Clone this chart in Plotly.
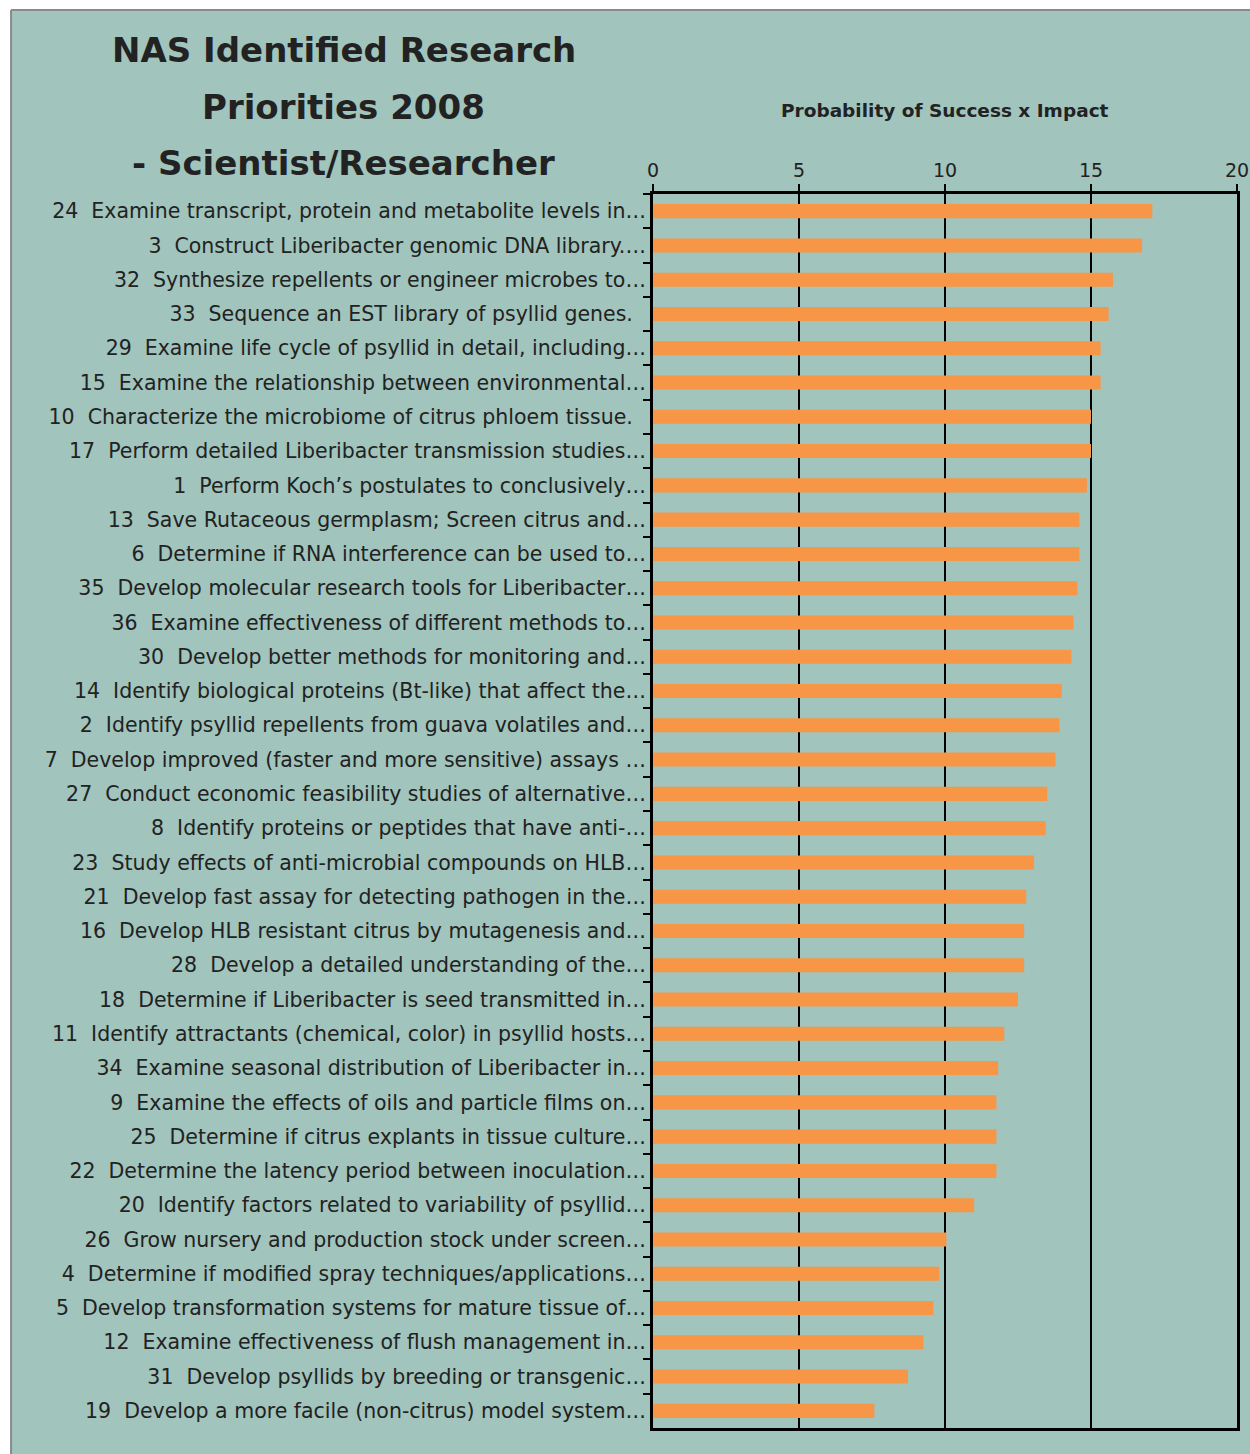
import plotly.graph_objects as go

# Research priority number, shortened description and score, listed top to bottom
item_ids = [24, 3, 32, 33, 29, 15, 10, 17, 1, 13, 6, 35, 36, 30, 14, 2, 7, 27,
            8, 23, 21, 16, 28, 18, 11, 34, 9, 25, 22, 20, 26, 4, 5, 12, 31, 19]

item_text = [
    "Examine transcript, protein and metabolite levels in…",
    "Construct Liberibacter genomic DNA library.…",
    "Synthesize repellents or engineer microbes to…",
    "Sequence an EST library of psyllid genes.  ",
    "Examine life cycle of psyllid in detail, including…",
    "Examine the relationship between environmental…",
    "Characterize the microbiome of citrus phloem tissue.  ",
    "Perform detailed Liberibacter transmission studies…",
    "Perform Koch’s postulates to conclusively…",
    "Save Rutaceous germplasm; Screen citrus and…",
    "Determine if RNA interference can be used to…",
    "Develop molecular research tools for Liberibacter…",
    "Examine effectiveness of different methods to…",
    "Develop better methods for monitoring and…",
    "Identify biological proteins (Bt-like) that affect the…",
    "Identify psyllid repellents from guava volatiles and…",
    "Develop improved (faster and more sensitive) assays …",
    "Conduct economic feasibility studies of alternative…",
    "Identify proteins or peptides that have anti-…",
    "Study effects of anti-microbial compounds on HLB…",
    "Develop fast assay for detecting pathogen in the…",
    "Develop HLB resistant citrus by mutagenesis and…",
    "Develop a detailed understanding of the…",
    "Determine if Liberibacter is seed transmitted in…",
    "Identify attractants (chemical, color) in psyllid hosts…",
    "Examine seasonal distribution of Liberibacter in…",
    "Examine the effects of oils and particle films on…",
    "Determine if citrus explants in tissue culture…",
    "Determine the latency period between inoculation…",
    "Identify factors related to variability of psyllid…",
    "Grow nursery and production stock under screen…",
    "Determine if modified spray techniques/applications…",
    "Develop transformation systems for mature tissue of…",
    "Examine effectiveness of flush management in…",
    "Develop psyllids by breeding or transgenic…",
    "Develop a more facile (non-citrus) model system…",
]

scores = [17.10, 16.75, 15.75, 15.60, 15.33, 15.33, 15.00, 15.00, 14.86,
          14.60, 14.60, 14.53, 14.40, 14.33, 14.00, 13.92, 13.78, 13.50,
          13.45, 13.05, 12.78, 12.71, 12.71, 12.50, 12.03, 11.82, 11.76,
          11.76, 11.76, 11.00, 10.05, 9.80, 9.60, 9.26, 8.73, 7.58]

x_ticks = [0, 5, 10, 15, 20]

labels = [f"{n}\u00a0 {t}" for n, t in zip(item_ids, item_text)]

BG = "#a1c4bd"
BAR = "#f79646"
INK = "#222222"
FONT = "'DejaVu Sans', Verdana, sans-serif"

W, H = 1250, 1454
L, R, T, B = 652.5, 13, 194, 25.5
pw = W - L - R
ph = H - T - B


def px_x(px):
    return (px - L) / pw


def px_y(py):
    return (H - B - py) / ph


fig = go.Figure(
    go.Bar(
        x=scores,
        y=labels,
        orientation="h",
        marker=dict(color=BAR, line=dict(width=0)),
        hoverinfo="x+y",
    )
)

fig.update_layout(
    width=W,
    height=H,
    margin=dict(l=L, r=R, t=T, b=B, autoexpand=False),
    paper_bgcolor="white",
    plot_bgcolor=BG,
    bargap=0.59,
    showlegend=False,
    font=dict(family=FONT, color=INK),
    shapes=[
        # teal panel with a grey frame on its top and left edges
        dict(type="rect", xref="paper", yref="paper", layer="below",
             x0=px_x(10), x1=px_x(1260), y0=px_y(1460), y1=px_y(10),
             fillcolor=BG, line=dict(width=0)),
        dict(type="line", xref="paper", yref="paper", layer="below",
             x0=px_x(10), x1=px_x(1260), y0=px_y(10), y1=px_y(10),
             line=dict(color="#8a8a8a", width=2)),
        dict(type="line", xref="paper", yref="paper", layer="below",
             x0=px_x(10), x1=px_x(10), y0=px_y(10), y1=px_y(1460),
             line=dict(color="#8a8a8a", width=2)),
    ],
)

fig.update_xaxes(
    side="top",
    range=[0, 20],
    tickvals=x_ticks,
    ticktext=[str(v) for v in x_ticks],
    ticks="outside",
    ticklen=7,
    tickwidth=2,
    tickcolor="black",
    tickfont=dict(size=19, family=FONT, color=INK),
    showgrid=True,
    gridcolor="black",
    gridwidth=1.5,
    showline=True,
    linecolor="black",
    linewidth=2.5,
    mirror=True,
    zeroline=False,
    fixedrange=True,
)

fig.update_yaxes(
    type="category",
    autorange="reversed",
    ticks="outside",
    tickson="boundaries",
    ticklen=7,
    tickwidth=2,
    tickcolor="black",
    tickfont=dict(size=20.5, family=FONT, color=INK),
    showgrid=False,
    showline=True,
    linecolor="black",
    linewidth=3,
    mirror=True,
    zeroline=False,
    fixedrange=True,
)

title_lines = [
    ("NAS Identified Research", 50),
    ("Priorities 2008", 107),
    ("- Scientist/Researcher", 163),
]
for text, py in title_lines:
    fig.add_annotation(
        text=f"<b>{text}</b>", xref="paper", yref="paper",
        x=px_x(343), y=px_y(py), xanchor="center", yanchor="middle",
        showarrow=False, font=dict(size=34, family=FONT, color=INK),
    )

fig.add_annotation(
    text="<b>Probability of Success x Impact</b>", xref="paper", yref="paper",
    x=px_x(945), y=px_y(110), xanchor="center", yanchor="middle",
    showarrow=False, font=dict(size=18.5, family=FONT, color=INK),
)

fig.write_html("out.html")
